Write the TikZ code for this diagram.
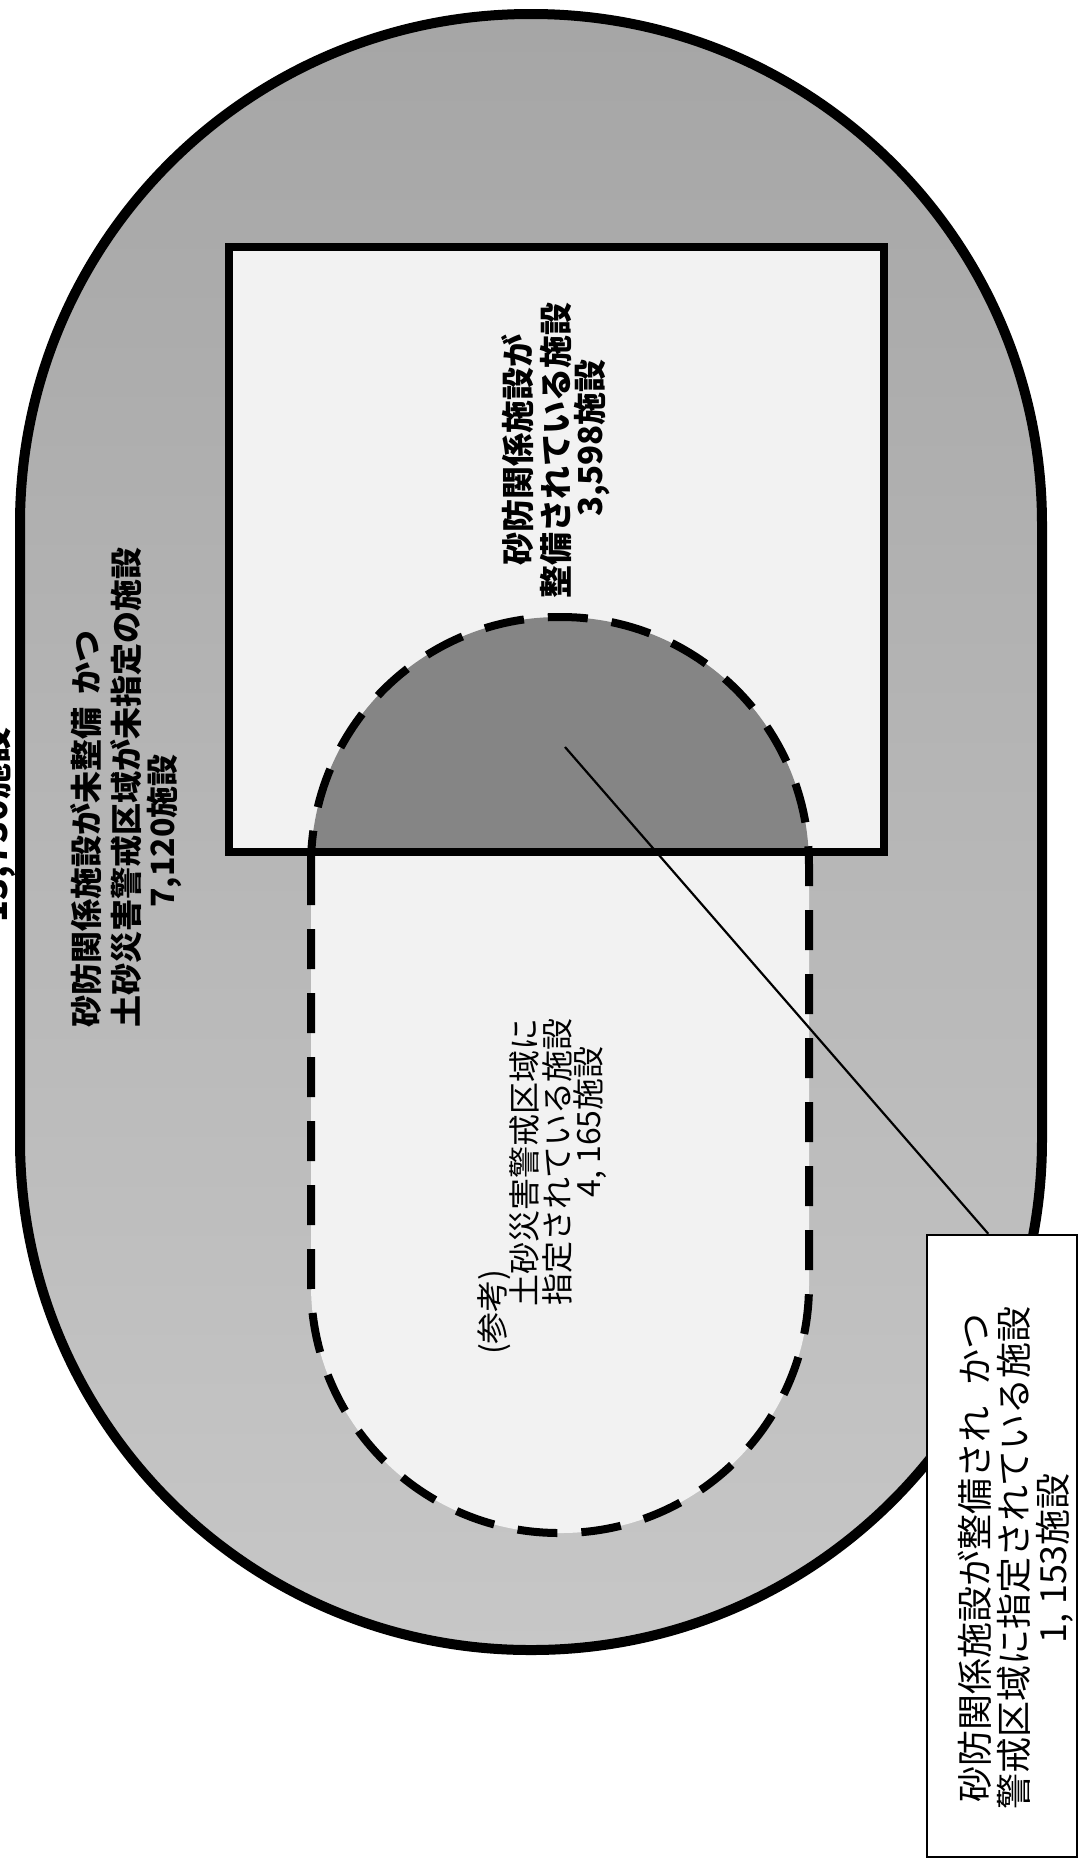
\documentclass[tikz,border=0pt]{standalone}
\usepackage{fontspec}
\setmainfont{Noto Sans CJK JP}
\usetikzlibrary{calc}
\definecolor{ringtop}{gray}{0.65}
\definecolor{ringbot}{gray}{0.78}
\definecolor{lightin}{gray}{0.95}
\definecolor{darkin}{gray}{0.52}
\begin{document}
\begin{tikzpicture}[x=0.5pt,y=-0.5pt,
  boldlbl/.style={rotate=90, inner sep=0pt, font=\bfseries\fontsize{16}{18}\selectfont},
  midlbl/.style={rotate=90, inner sep=0pt, font=\bfseries\fontsize{16.5}{18}\selectfont},
  reglbl/.style={rotate=90, inner sep=0pt, font=\fontsize{16}{18}\selectfont},
  thick border/.style={line width=4pt},
  dashborder/.style={line width=4pt, dash pattern=on 20pt off 12pt},
  calloutbox/.style={draw, line width=1.2pt, fill=white, minimum width=75pt, minimum height=311pt, inner sep=0pt},
  leader/.style={line width=1.1pt}]
\useasboundingbox (0,0) rectangle (1079,1860);
% outer stadium
\shadedraw[top color=ringtop, bottom color=ringbot, line width=5pt, rounded corners=255pt] (20,14) rectangle (1042,1650);
% light interiors
\fill[lightin] (229,247) rectangle (884,852);
\fill[lightin, rounded corners=124pt] (311,617) rectangle (809,1533);
% dark intersection
\begin{scope}
  \clip (229,247) rectangle (884,852);
  \fill[darkin, rounded corners=124pt] (311,617) rectangle (809,1533);
\end{scope}
% outlines
\draw[thick border] (229,247) rectangle (884,852);
\draw[dashborder, rounded corners=124pt] (311,617) rectangle (809,1533);
% clipped total text at left edge
\node[rotate=90, inner sep=0pt, font=\bfseries\fontsize{18}{20}\selectfont] (total) at (-4,825) {13,730施設};
% text of the outer ring
\node[boldlbl, anchor=west] (t1a) at (86,1028) {砂防関係施設が未整備\hspace{0.4em}かつ};
\node[boldlbl, anchor=west] (t1b) at (126,1028) {土砂災害警戒区域が未指定の施設};
\node[boldlbl, anchor=west] (t1c) at (164,908) {7,120施設};
% text of the rectangle
\node[midlbl] (t2a) at (518,450) {砂防関係施設が};
\node[midlbl] (t2b) at (556,450) {整備されている施設};
\node[midlbl] (t2c) at (592,438) {3,598施設};
% text of the dashed region
\node[reglbl] (t3a) at (494,1312) {(参考)};
\node[reglbl] (t3b) at (524,1162) {土砂災害警戒区域に};
\node[reglbl] (t3c) at (557,1162) {指定されている施設};
\node[reglbl] (t3d) at (590,1122) {4, 165施設};
% callout
\coordinate (lead) at (565,747);
\node[calloutbox] (callout) at (1002,1546) {};
\draw[leader] (lead) -- ($(callout.north west)!0.41!(callout.north east)$);
\node[rotate=90, align=center, inner sep=0pt, font=\fontsize{18}{19.5}\selectfont] (ctext) at (1016,1558)
  {砂防関係施設が整備され\hspace{0.6em}かつ\\警戒区域に指定されている施設\\1, 153施設};
\end{tikzpicture}
\end{document}
